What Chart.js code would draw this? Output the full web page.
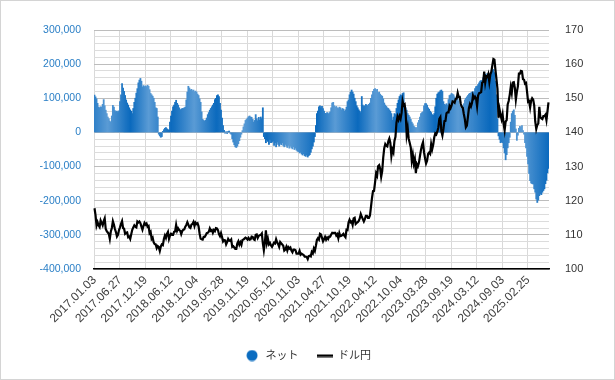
<!DOCTYPE html>
<html>
<head>
<meta charset="utf-8">
<script src="https://cdn.jsdelivr.net/npm/chart.js@4.4.0/dist/chart.umd.min.js"></script>
<style>
html, body { margin: 0; padding: 0; background: #fff; }
#wrap { width: 615px; height: 380px; box-sizing: border-box; border: 1px solid #d4d4d4; background: #fff; }
canvas { display: block; }
</style>
</head>
<body>
<div id="wrap"><canvas id="chart" width="613" height="378"></canvas></div>
<script>
// weekly data, first week 2017.01.03
const START_DATE = Date.UTC(2017, 0, 3);
const LABEL_EVERY = 25;

// ネット (thousands of contracts), 25 weeks per row
const netK = [
    109, 104, 98, 85, 74, 72, 75, 74, 82, 96, 78, 65, 55, 45, 40, 33, 30, 48, 79, 74, 64, 60, 62, 58, 63,
    90, 110, 143, 130, 120, 108, 95, 86, 80, 72, 66, 62, 55, 70, 88, 100, 115, 128, 145, 153, 158, 150, 133, 137, 134,
    136, 134, 138, 135, 125, 114, 110, 106, 100, 88, 72, 70, 45, -5, -10, -14, -12, 3, 8, 12, 14, 10, 8, 6, 30,
    48, 62, 75, 80, 88, 94, 85, 80, 72, 66, 68, 70, 70, 72, 74, 95, 118, 135, 130, 124, 126, 122, 124, 119, 121,
    118, 112, 108, 98, 88, 60, 38, 35, 33, 36, 42, 52, 58, 65, 70, 75, 80, 85, 96, 100, 108, 110, 105, 85, 65,
    42, 20, 6, -2, 2, -3, 3, 4, -2, -5, -18, -28, -36, -42, -44, -40, -33, -24, -14, -5, 5, 16, 25, 35, 38,
    42, 46, 48, 45, 44, 38, 30, 35, 52, 40, 34, 44, 36, 45, 40, 72, -12, -18, -30, -22, -26, -35, -20, -30, -28,
    -25, -38, -30, -42, -28, -35, -40, -32, -36, -30, -38, -42, -35, -40, -44, -38, -46, -40, -45, -48, -42, -50, -46, -52, -55,
    -56, -60, -58, -63, -66, -62, -68, -70, -66, -72, -68, -65, -58, -48, -40, -28, -12, 20, 55, 62, 75, 78, 72, 76, 70,
    62, 56, 55, 58, 54, 57, 60, 72, 86, 88, 78, 74, 76, 72, 70, 74, 72, 66, 70, 68, 62, 66, 74, 90, 95,
    110, 118, 124, 118, 112, 100, 90, 78, 72, 66, 62, 58, 105, 80, 76, 78, 82, 80, 78, 82, 86, 100, 110, 120, 126,
    128, 124, 126, 116, 118, 112, 108, 106, 98, 86, 80, 76, 72, 70, 66, 62, 55, 36, 45, 55, 52, 70, 85, 95, 105,
    110, 108, 114, 116, 80, 72, 65, 55, 50, 45, 38, 30, 25, 18, 15, 13, 14, 28, 35, 45, 55, 58, 60, 78, 84,
    84, 80, 72, 68, 62, 58, 52, 50, 55, 75, 100, 112, 116, 118, 122, 124, 120, 90, 82, 80, 84, 80, 96, 108, 110,
    114, 112, 110, 104, 98, 100, 98, 92, 80, 70, 72, 78, 84, 95, 100, 104, 108, 112, 114, 116, 118, 119, 118, 128, 134,
    135, 140, 145, 150, 152, 148, 160, 168, 170, 165, 172, 150, 148, 160, 175, 182, 184, 175, 150, 110, 40, -10, -20, -30, -28,
    -30, -45, -60, -80, -65, -45, -30, -14, 30, 55, 62, 66, 50, 10, -23, -8, 12, 18, 15, 20, 5, -5, -30, -45, -70,
    -92, -120, -141, -148, -150, -151, -165, -175, -195, -205, -198, -185, -180, -182, -175, -170, -165, -150, -140, -118, -105
];

// ドル円
const usdJpy = [
    117.8, 115.8, 112.7, 113.7, 112.8, 112.3, 114.2, 113.5, 112.8, 114.0, 114.8, 111.7, 111.1, 110.7, 110.3, 108.8, 111.0, 112.0, 114.0, 113.0, 111.7, 110.8, 109.5, 110.0, 111.4,
    112.2, 113.2, 114.0, 112.0, 111.8, 110.3, 110.6, 110.7, 109.3, 109.5, 108.8, 110.2, 111.5, 112.2, 112.8, 112.4, 112.2, 113.9, 113.6, 113.9, 113.4, 112.4, 111.5, 112.6, 113.5,
    113.0, 113.3, 112.4, 112.6, 110.5, 110.9, 108.8, 109.2, 107.8, 107.3, 107.2, 106.1, 106.7, 106.4, 105.3, 106.6, 107.2, 107.0, 108.8, 109.8, 109.1, 110.3, 110.9, 108.8, 109.8,
    110.3, 110.0, 110.0, 110.9, 111.0, 112.9, 111.2, 111.9, 111.4, 111.2, 110.2, 111.1, 111.5, 111.6, 112.4, 112.9, 113.7, 113.0, 112.2, 112.0, 113.0, 113.2, 113.8, 112.6, 113.6,
    113.2, 113.4, 112.5, 110.4, 108.9, 108.7, 108.6, 109.4, 109.4, 109.9, 110.5, 110.6, 110.9, 111.9, 111.2, 111.4, 110.6, 111.4, 111.1, 112.0, 111.9, 111.4, 110.2, 109.6, 110.5,
    109.4, 108.1, 108.5, 108.4, 107.2, 107.9, 108.8, 108.3, 108.2, 108.6, 106.5, 106.7, 106.3, 105.9, 105.9, 107.5, 108.1, 107.1, 107.8, 107.1, 108.5, 108.6, 108.9, 109.2, 109.0,
    108.6, 109.1, 108.6, 108.7, 109.5, 109.4, 108.7, 108.5, 110.0, 110.1, 109.1, 109.7, 109.9, 110.0, 110.4, 107.6, 105.5, 107.7, 111.3, 107.6, 108.8, 107.2, 107.6, 106.9, 106.5,
    107.1, 107.7, 107.5, 108.7, 107.8, 107.3, 106.5, 107.9, 107.5, 107.2, 106.8, 105.4, 105.7, 106.5, 105.4, 106.4, 106.0, 106.3, 105.4, 104.9, 105.7, 105.7, 105.5, 104.5, 104.5,
    104.5, 105.3, 104.2, 104.5, 104.3, 104.1, 103.6, 103.6, 103.5, 102.9, 103.8, 103.9, 103.7, 105.0, 104.6, 106.0, 105.3, 106.8, 108.5, 109.0, 108.6, 110.3, 110.1, 109.1, 108.1,
    108.7, 109.4, 108.6, 109.2, 108.8, 109.5, 109.5, 110.1, 110.6, 110.5, 110.6, 110.6, 109.8, 110.2, 109.0, 110.5, 109.6, 109.7, 110.0, 110.3, 109.7, 109.3, 111.5, 111.4, 113.6,
    114.4, 113.7, 113.9, 112.9, 114.8, 115.0, 113.2, 113.5, 113.7, 114.1, 114.8, 116.1, 115.3, 114.6, 113.9, 114.6, 115.6, 115.6, 115.0, 115.0, 115.7, 118.2, 120.8, 122.8, 122.9,
    125.4, 128.0, 127.3, 130.1, 130.4, 129.4, 127.0, 128.7, 132.6, 135.4, 136.6, 136.1, 135.9, 137.4, 138.2, 136.9, 133.1, 135.0, 134.2, 137.5, 138.7, 142.9, 144.6, 143.7, 144.8,
    144.0, 145.7, 149.2, 147.9, 148.2, 145.6, 139.3, 141.2, 138.1, 136.9, 135.6, 131.7, 133.5, 130.9, 132.2, 128.1, 130.7, 130.1, 131.1, 133.1, 134.9, 136.2, 137.1, 134.2, 132.4,
    130.9, 131.7, 133.7, 134.1, 133.7, 136.6, 135.1, 136.4, 138.5, 139.7, 139.4, 140.2, 141.4, 144.0, 144.5, 140.3, 139.1, 141.0, 143.3, 143.4, 145.6, 145.9, 145.9, 147.7, 147.1,
    147.9, 149.1, 149.0, 148.7, 149.8, 149.9, 151.6, 150.4, 150.4, 148.4, 147.5, 147.2, 145.4, 143.9, 141.5, 142.0, 144.5, 147.1, 148.3, 147.6, 148.6, 150.8, 150.0, 150.5, 150.0,
    147.7, 150.8, 151.5, 151.6, 151.8, 154.6, 154.8, 157.8, 154.6, 156.4, 156.2, 157.1, 154.8, 157.0, 157.8, 159.7, 161.5, 161.3, 158.3, 155.6, 152.8, 144.3, 146.8, 145.2, 143.9,
    145.3, 142.5, 140.6, 143.2, 143.6, 148.2, 149.2, 151.0, 153.3, 151.6, 154.6, 154.7, 153.1, 149.6, 151.9, 153.5, 157.2, 157.2, 158.0, 157.9, 155.6, 155.5, 154.3, 154.5, 151.9,
    149.0, 149.2, 147.3, 149.3, 150.0, 149.6, 147.9, 143.2, 141.0, 142.2, 142.6, 147.5, 144.5, 144.1, 143.9, 144.8, 144.8, 145.2, 143.6, 146.2, 148.8
];

function fmtDate(ms) {
    const d = new Date(ms);
    return d.getUTCFullYear() + '.' +
        String(d.getUTCMonth() + 1).padStart(2, '0') + '.' +
        String(d.getUTCDate()).padStart(2, '0');
}
const weeks = usdJpy.map((_, i) => fmtDate(START_DATE + i * 7 * 86400000));

// horizontal shading of the blue fill (fraction of plot width, colour)
const SHADE_DARK = '#0a69bd';
const SHADE_LIGHT = '#5a9bd5';
const shadeStops = [
    [0.00, '#2f80c8'], [0.03, SHADE_LIGHT], [0.08, SHADE_DARK], [0.12, SHADE_LIGHT],
    [0.17, SHADE_DARK], [0.22, SHADE_LIGHT], [0.27, SHADE_DARK], [0.33, SHADE_LIGHT],
    [0.38, SHADE_DARK], [0.43, SHADE_LIGHT], [0.49, SHADE_DARK], [0.53, SHADE_LIGHT],
    [0.58, SHADE_DARK], [0.62, SHADE_LIGHT], [0.67, SHADE_DARK], [0.71, SHADE_LIGHT],
    [0.75, SHADE_DARK], [0.80, SHADE_LIGHT], [0.87, SHADE_DARK], [0.94, SHADE_LIGHT],
    [1.00, SHADE_DARK]
];

function barFill(context) {
    const chart = context.chart;
    const area = chart.chartArea;
    if (!area) return SHADE_DARK;
    if (!chart._netFill || chart._netFillW !== area.width) {
        const g = chart.ctx.createLinearGradient(area.left, 0, area.right, 0);
        shadeStops.forEach(s => g.addColorStop(s[0], s[1]));
        chart._netFill = g;
        chart._netFillW = area.width;
    }
    return chart._netFill;
}

function legendIcon(kind) {
    const c = document.createElement('canvas');
    const g = c.getContext('2d');
    if (kind === 'dot') {
        c.width = 12; c.height = 12;
        g.fillStyle = '#0a6cc0';
        g.beginPath();
        g.arc(6, 6, 5.5, 0, Math.PI * 2);
        g.fill();
    } else {
        c.width = 16; c.height = 4;
        g.fillStyle = '#000';
        g.fillRect(0, 1, 16, 2.5);
    }
    return c;
}

Chart.defaults.font.family = '"Liberation Sans", Arial, "Noto Sans CJK JP", sans-serif';

const ctx = document.getElementById('chart').getContext('2d');
new Chart(ctx, {
    data: {
        labels: weeks,
        datasets: [
            {
                type: 'bar',
                label: 'ネット',
                data: netK.map(v => v * 1000),
                yAxisID: 'y',
                backgroundColor: barFill,
                borderWidth: 0,
                barPercentage: 1,
                categoryPercentage: 1,
                inflateAmount: 0.4,
                pointStyle: legendIcon('dot'),
                order: 1
            },
            {
                type: 'line',
                label: 'ドル円',
                data: usdJpy,
                yAxisID: 'y1',
                borderColor: '#000',
                borderWidth: 2.2,
                pointRadius: 0,
                tension: 0,
                pointStyle: legendIcon('line'),
                order: 0
            }
        ]
    },
    options: {
        responsive: false,
        animation: false,
        layout: { padding: { top: 29, right: 0, bottom: 8, left: 0 } },
        plugins: {
            tooltip: { enabled: false },
            legend: {
                position: 'bottom',
                labels: {
                    usePointStyle: true,
                    pointStyleWidth: 16,
                    boxHeight: 11,
                    padding: 18,
                    color: '#333',
                    font: { size: 11 },
                    sort: (a, b) => a.datasetIndex - b.datasetIndex
                }
            }
        },
        scales: {
            x: {
                offset: true,
                grid: {
                    offset: true,
                    drawTicks: false,
                    color: c => (c.index % LABEL_EVERY === 0 ? '#d9d9d9' : 'rgba(0,0,0,0)')
                },
                border: { color: '#000', width: 1.5 },
                ticks: {
                    autoSkip: false,
                    minRotation: 45,
                    maxRotation: 45,
                    padding: 4,
                    color: '#404040',
                    font: { size: 12 },
                    callback: (v, i) => (i % LABEL_EVERY === 0 ? weeks[i] : '')
                },
                afterFit: s => { s.height = 63; }
            },
            y: {
                position: 'left',
                min: -400000,
                max: 300000,
                ticks: {
                    stepSize: 20000,
                    autoSkip: false,
                    padding: 13,
                    color: '#2a7fc6',
                    font: { size: 10.5 },
                    callback: v => (v % 100000 === 0 ? v.toLocaleString('en-US') : '')
                },
                grid: {
                    drawTicks: false,
                    color: c => (c.tick && c.tick.value % 100000 === 0 ? '#bdbdbd' : '#dcdcdc')
                },
                border: { display: false },
                afterFit: s => { s.width = 93; }
            },
            y1: {
                position: 'right',
                min: 100,
                max: 170,
                ticks: { stepSize: 10, padding: 16, color: '#333', font: { size: 11 } },
                grid: { drawOnChartArea: false, drawTicks: false },
                border: { display: false },
                afterFit: s => { s.width = 65; }
            }
        }
    }
});
</script>
</body>
</html>
